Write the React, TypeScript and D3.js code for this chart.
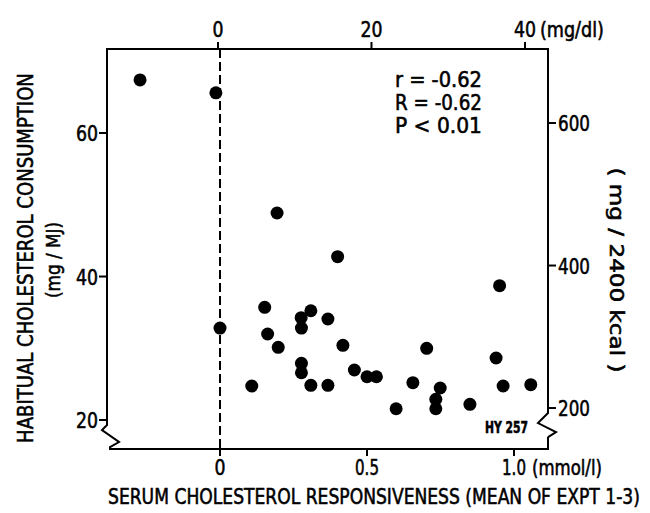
import React, { useLayoutEffect, useRef, useState } from "react";
import * as d3 from "d3";

// responsiveness (mmol/l) on x; habitual cholesterol consumption (mg/MJ) on y
const xValues = [-0.272, -0.014, 0.194, 0.4, 0.951, 0.152, 0.309, 0.276, 0.367, 0.0, 0.277, 0.162, 0.198, 0.418, 0.703, 0.939, 0.277, 0.277, 0.457, 0.5, 0.532, 0.108, 0.309, 0.367, 0.656, 0.749, 0.963, 1.057, 0.734, 0.599, 0.734, 0.85];
const yValues = [67.4, 65.6, 48.85, 42.76, 38.72, 35.71, 35.23, 34.26, 34.08, 32.82, 32.82, 31.99, 30.13, 30.41, 29.99, 28.64, 27.9, 26.59, 26.97, 26.03, 26.03, 24.74, 24.84, 24.84, 25.2, 24.46, 24.74, 24.92, 22.89, 21.57, 21.57, 22.19];

const bottomTicks = [0, 0.5, 1.0];
const bottomTickLabels = ["0", "0.5", "1.0"];
const topTicks = [0, 20, 40];
const topTickLabels = ["0", "20", "40"];
const leftTicks = [20, 40, 60];
const rightTicks = [200, 400, 600];
const statsLines = ["r = -0.62", "R = -0.62", "P < 0.01"];

const FONT = "'DejaVu Sans Condensed', 'DejaVu Sans', sans-serif";

// text horizontally scaled so that its width equals `len`
function T({ x, y, size, len, anchor = "start", rotate = 0, weight, children }: any) {
  const ref = useRef<SVGTextElement>(null);
  const [s, setS] = useState(1);
  useLayoutEffect(() => {
    if (ref.current) {
      const w = ref.current.getBBox().width;
      if (w > 0) setS(len / w);
    }
  }, [len, children, size]);
  return (
    <g transform={`translate(${x},${y}) rotate(${rotate}) scale(${s},1)`}>
      <text
        ref={ref}
        x={0}
        y={0}
        fontSize={size}
        textAnchor={anchor}
        fontWeight={weight}
        fill="#000"
        stroke="#000"
        strokeWidth={0.55}
      >
        {children}
      </text>
    </g>
  );
}

export default function App() {
  const L = 107, R = 548, Tp = 49, B = 449;
  const x = d3.scaleLinear().domain([-0.3844, 1.1156]).range([L, R]);
  const xTop = d3.scaleLinear().domain([-14.46, 43.0]).range([L, R]);
  const y = d3.scaleLinear().domain([15.96, 71.71]).range([B, Tp]);
  const yRight = d3.scaleLinear().domain([142.5, 703.9]).range([B, Tp]);

  const sw = 2;
  const y20 = y(20);
  const y200 = yRight(200);
  const leftPath = `M${L},${Tp} L${L},${y20 + 5} L${L - 5},${y20 + 10} L${L + 12},${y20 + 22} L${L + 3},${y20 + 27} L${L + 3},${B} L${R},${B} L${R},${y200 + 29}`;
  const rightPath = `M${R},${Tp} L${R},${y200 + 5} L${R - 10},${y200 + 15} L${R + 8},${y200 + 24} L${R},${y200 + 29}`;

  return (
    <svg width={650} height={513} style={{ display: "block", position: "absolute", left: 0, top: 0, background: "#fff" }} fontFamily={FONT}>
      <rect x={0} y={0} width={650} height={513} fill="#fff" />
      {/* frame */}
      <path d={leftPath} fill="none" stroke="#000" strokeWidth={sw} />
      <path d={rightPath} fill="none" stroke="#000" strokeWidth={sw} />
      <line x1={L - 1} x2={R + 1} y1={Tp} y2={Tp} stroke="#000" strokeWidth={sw} />
      {/* dashed zero line */}
      <line x1={x(0)} x2={x(0)} y1={Tp} y2={B} stroke="#000" strokeWidth={2} strokeDasharray="9,4" />

      {/* bottom axis */}
      {bottomTicks.map((t, i) => (
        <g key={"b" + i}>
          <line x1={x(t)} x2={x(t)} y1={B} y2={B + 7} stroke="#000" strokeWidth={sw} />
          <T x={x(t)} y={475} size={22} anchor="middle" len={bottomTickLabels[i].length === 1 ? 11 : 24}>{bottomTickLabels[i]}</T>
        </g>
      ))}
      <T x={x(1.0) + 18} y={475} size={21} len={70}>(mmol/l)</T>
      <T x={108} y={504} size={22} len={532}>SERUM CHOLESTEROL  RESPONSIVENESS (MEAN OF EXPT 1-3)</T>

      {/* top axis */}
      {topTicks.map((t, i) => (
        <g key={"t" + i}>
          <line x1={xTop(t)} x2={xTop(t)} y1={Tp} y2={Tp - 7} stroke="#000" strokeWidth={sw} />
          <T x={xTop(t)} y={37} size={22} anchor="middle" len={topTickLabels[i].length === 1 ? 11 : 22}>{topTickLabels[i]}</T>
        </g>
      ))}
      <T x={xTop(40) + 15} y={37} size={21} len={64}>(mg/dl)</T>

      {/* left axis */}
      {leftTicks.map((t) => (
        <g key={"l" + t}>
          <line x1={L - 8} x2={L} y1={y(t)} y2={y(t)} stroke="#000" strokeWidth={sw} />
          <T x={L - 9} y={y(t) + 8} size={22} anchor="end" len={22}>{String(t)}</T>
        </g>
      ))}
      <T x={33} y={258} rotate={-90} size={22} anchor="middle" len={370}>HABITUAL  CHOLESTEROL  CONSUMPTION</T>
      <T x={60} y={260} rotate={-90} size={20} anchor="middle" len={76}>(mg / MJ)</T>

      {/* right axis */}
      {rightTicks.map((t) => (
        <g key={"r" + t}>
          <line x1={R} x2={R + 8} y1={yRight(t)} y2={yRight(t)} stroke="#000" strokeWidth={sw} />
          <T x={R + 10} y={yRight(t) + 8} size={22} len={32}>{String(t)}</T>
        </g>
      ))}
      <T x={610} y={270} rotate={90} size={20} anchor="middle" len={205}>( mg / 2400 kcal )</T>

      {/* stats */}
      {statsLines.map((s, i) => (
        <T key={s} x={395} y={87 + i * 23} size={21} len={87}>{s}</T>
      ))}
      <T x={485} y={433} size={15} len={43} weight="bold">HY 257</T>

      {/* points */}
      {xValues.map((v, i) => (
        <circle key={i} cx={x(v)} cy={y(yValues[i])} r={6.5} fill="#000" />
      ))}
    </svg>
  );
}
